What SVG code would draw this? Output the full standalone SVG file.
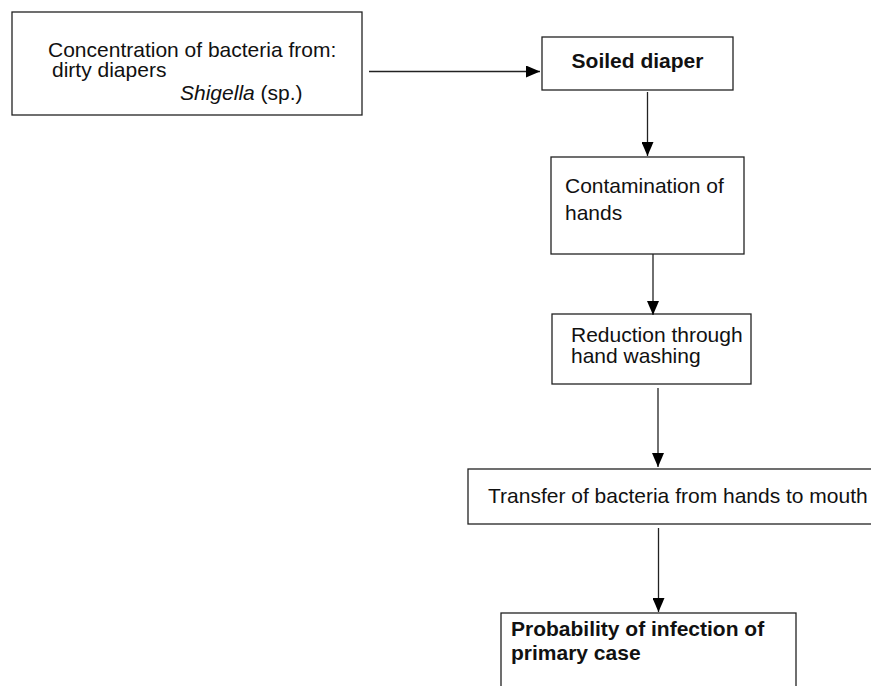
<svg xmlns="http://www.w3.org/2000/svg" width="871" height="686" viewBox="0 0 871 686">
<defs>
<marker id="ah" markerWidth="14" markerHeight="12" refX="14" refY="6" orient="auto" markerUnits="userSpaceOnUse">
<path d="M0,0 L14,6 L0,12 Z" fill="#000"/>
</marker>
<style>
.box{fill:#fff;stroke:#222;stroke-width:1.3}
.t{font-family:"Liberation Sans",Arial,sans-serif;font-size:21px;fill:#111}
.b{font-weight:bold}
.c{stroke:#222;stroke-width:1.3;fill:none}
</style>
</defs>
<rect width="871" height="686" fill="#fff"/>
<g id="n1">
<rect class="box" x="12" y="12" width="350" height="103"/>
<text class="t" x="48" y="57">Concentration of bacteria from:</text>
<text class="t" x="52" y="77">dirty diapers</text>
<text class="t" x="180" y="100"><tspan font-style="italic">Shigella</tspan> (sp.)</text>
</g>
<g id="n2">
<rect class="box" x="542" y="37" width="191" height="53"/>
<text class="t b" x="637.5" y="68" text-anchor="middle">Soiled diaper</text>
</g>
<g id="n3">
<rect class="box" x="551" y="157" width="193" height="97"/>
<text class="t" x="565" y="193">Contamination of</text>
<text class="t" x="565" y="220">hands</text>
</g>
<g id="n4">
<rect class="box" x="552" y="314" width="199" height="70"/>
<text class="t" x="571" y="342">Reduction through</text>
<text class="t" x="571" y="363">hand washing</text>
</g>
<g id="n5">
<rect class="box" x="468" y="469" width="420" height="55"/>
<text class="t" x="488" y="503">Transfer of bacteria from hands to mouth</text>
</g>
<g id="n6">
<rect class="box" x="501" y="613" width="295" height="90"/>
<text class="t b" x="511" y="636">Probability of infection of</text>
<text class="t b" x="511" y="660">primary case</text>
</g>
<g id="connectors">
<line class="c" x1="369" y1="71.5" x2="540" y2="71.5" marker-end="url(#ah)"/>
<line class="c" x1="647.5" y1="92" x2="647.5" y2="156" marker-end="url(#ah)"/>
<line class="c" x1="653" y1="254" x2="653" y2="315" marker-end="url(#ah)"/>
<line class="c" x1="658" y1="388" x2="658" y2="467" marker-end="url(#ah)"/>
<line class="c" x1="658.5" y1="528" x2="658.5" y2="612" marker-end="url(#ah)"/>
</g>
</svg>
